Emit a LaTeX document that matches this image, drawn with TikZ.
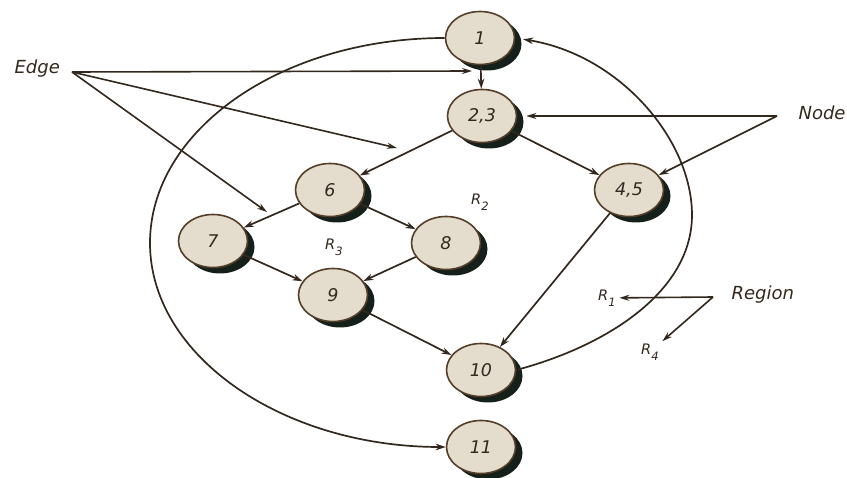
\documentclass[tikz,border=0pt]{standalone}
\usepackage{fontspec}
\setmainfont{DejaVu Sans}
\usetikzlibrary{arrows.meta,shapes.geometric,shadows}
\definecolor{ln}{RGB}{50,40,30}
\definecolor{nfill}{RGB}{228,221,206}
\definecolor{nedge}{RGB}{85,62,40}
\definecolor{shd}{RGB}{22,32,26}
\newcommand\Rsb[1]{R\kern0.2pt\raisebox{-0.42em}{\fontsize{11.5}{11.5}\selectfont #1}}
\tikzset{
  fgnode/.style={ellipse, draw=nedge, line width=1.6pt, fill=nfill,
    minimum width=69pt, minimum height=53pt, inner sep=0pt,
    font=\itshape\fontsize{17.5}{17.5}\selectfont, text=ln,
    drop shadow={shadow xshift=7pt, shadow yshift=-6pt, fill=shd, opacity=1}},
  edgeln/.style={draw=ln, line width=1.7pt, -{Stealth[length=10pt,width=6.5pt]}},
  ptr/.style={draw=ln, line width=1.6pt, -{Stealth[length=10pt,width=6pt]}},
  lbl/.style={font=\itshape\fontsize{18}{18}\selectfont, text=ln},
  rlbl/.style={font=\itshape\fontsize{14.5}{14.5}\selectfont, text=ln},
}
\begin{document}
\begin{tikzpicture}[x=1pt,y=-1pt]
\useasboundingbox[fill=white] (0,0) rectangle (847,478);

% flow graph nodes
\node[fgnode] (n1)  at (480,38)  {1};
\node[fgnode] (n23) at (482,116) {2,3};
\node[fgnode] (n6)  at (330,190) {6};
\node[fgnode] (n7)  at (213,241) {7};
\node[fgnode] (n8)  at (446,243) {8};
\node[fgnode] (n9)  at (333,295) {9};
\node[fgnode] (n45) at (629,190) {4,5};
\node[fgnode] (n10) at (481,370) {10};
\node[fgnode] (n11) at (481,447) {11};

% edges
\draw[edgeln] (n1) -- (n23);
\draw[edgeln] (n23) -- (n6);
\draw[edgeln] (n23) -- (n45);
\draw[edgeln] (n6) -- (n7);
\draw[edgeln] (n6) -- (n8);
\draw[edgeln] (n7) -- (n9);
\draw[edgeln] (n8) -- (n9);
\draw[edgeln] (n9) -- (n10);
\draw[edgeln] (n45) -- (n10);

\coordinate (arcL) at (150,243);
\draw[edgeln] (n1.west) .. controls +(-163,0) and +(0,-113) .. (arcL)
  .. controls +(0,113) and +(-163,0) .. (n11.west);
\coordinate (arcR) at (692,215);
\draw[edgeln, shorten >=8pt] (n10.east) .. controls (610,345) and (692,290) .. (arcR)
  .. controls (692,140) and (620,55) .. (n1.east);

% region labels
\node[rlbl] (r1) at (607,298) {\Rsb{1}};
\node[rlbl] (r2) at (480,202) {\Rsb{2}};
\node[rlbl] (r3) at (334,247) {\Rsb{3}};
\node[rlbl] (r4) at (650,352) {\Rsb{4}};

% annotation: Edge
\node[lbl, anchor=base west] (edgelbl) at (11,74) {Edge};
\coordinate (ehub) at (72,72);
\coordinate (et1) at (472,71);
\coordinate (et2) at (397,148);
\coordinate (et3) at (267,212);
\draw[ptr] (ehub) -- (et1);
\draw[ptr] (ehub) -- (et2);
\draw[ptr] (ehub) -- (et3);

% annotation: Node
\node[lbl, anchor=base west] (nodelbl) at (795,120) {Node};
\coordinate (nhub) at (777,116);
\draw[ptr, shorten >=9pt] (nhub) -- (n23.east);
\draw[ptr] (nhub) -- (n45);

% annotation: Region
\node[lbl, anchor=base west] (reglbl) at (728,300) {Region};
\coordinate (rhub) at (713,297);
\draw[ptr] (rhub) -- (r1);
\draw[ptr] (rhub) -- (r4);
\end{tikzpicture}
\end{document}
